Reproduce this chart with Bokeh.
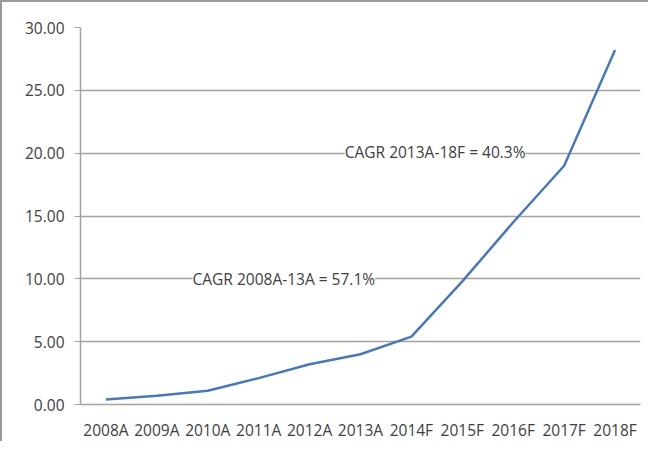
from bokeh.plotting import figure
from bokeh.models import Label, NumeralTickFormatter, FactorRange, Range1d, ColumnDataSource
from bokeh.embed import file_html
from bokeh.resources import INLINE

years = ["2008A", "2009A", "2010A", "2011A", "2012A", "2013A",
         "2014F", "2015F", "2016F", "2017F", "2018F"]
values = [0.4, 0.7, 1.1, 2.1, 3.2, 4.0, 5.4, 9.8, 14.5, 19.0, 28.2]
notes = ["CAGR 2008A-13A = 57.1%", "CAGR 2013A-18F = 40.3%"]

FONT = "Open Sans"
TXT = "#404040"
GRID = "#a8a09a"

p = figure(width=648, height=441, output_backend="svg", toolbar_location=None,
           x_range=FactorRange(*years, range_padding=0), y_range=Range1d(0, 30),
           min_border_left=78, min_border_right=10, min_border_top=25, min_border_bottom=38)
p.styles = {"border-left": "2px solid #9a9a9a", "border-top": "2px solid #9a9a9a"}
p.outline_line_color = None
p.background_fill_color = "white"
p.border_fill_color = "white"

src = ColumnDataSource(dict(x=years, y=values))
p.line("x", "y", source=src, line_color="#4a78b5", line_width=2.5)

p.xgrid.grid_line_color = None
p.ygrid.grid_line_color = GRID
p.ygrid.grid_line_width = 1.5
p.yaxis.ticker = [0, 5, 10, 15, 20, 25, 30]
p.yaxis.formatter = NumeralTickFormatter(format="0.00")
for ax in (p.xaxis[0], p.yaxis[0]):
    ax.axis_line_color = GRID
    ax.axis_line_width = 1.5
    ax.major_tick_line_color = GRID
    ax.major_tick_out = 6
    ax.major_tick_in = 0
    ax.minor_tick_line_color = None
    ax.major_label_text_font = FONT
    ax.major_label_text_font_size = "15.5px"
    ax.major_label_text_color = TXT
p.yaxis.major_label_standoff = 10
p.xaxis.major_tick_line_color = None
p.xaxis.major_label_standoff = 8

for txt, xx, yy in zip(notes, [2.2, 5.19], [10.0, 20.1]):
    p.add_layout(Label(x=xx, y=yy, text=txt, text_font=FONT, text_font_size="15.5px",
                       text_color=TXT, text_baseline="middle", text_align="left",
                       background_fill_color="white"))

open("out.html", "w").write(file_html(p, INLINE))
